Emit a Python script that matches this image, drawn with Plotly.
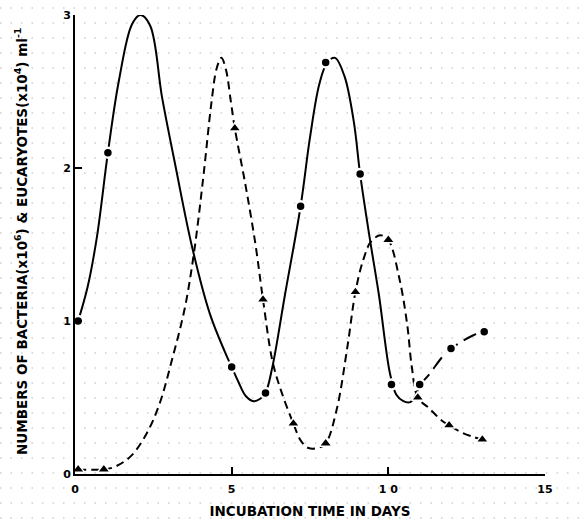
import plotly.graph_objects as go

# ---- measured data points (day, value) ----
bact_days = [0.1, 1.05, 5.0, 6.08, 7.2, 8.0, 9.1, 10.1, 11.0, 12.0, 13.06]
bact_vals = [1.0, 2.10, 0.70, 0.53, 1.75, 2.69, 1.96, 0.585, 0.585, 0.82, 0.93]

euc_days = [0.1, 0.92, 5.1, 6.0, 6.97, 8.0, 8.95, 10.0, 10.94, 11.94, 13.0]
euc_vals = [0.03, 0.03, 2.26, 1.14, 0.33, 0.2, 1.19, 1.53, 0.5, 0.318, 0.226]

# ---- hand-drawn fitted curves ----
bact_curve_days = [0.1, 0.4, 0.7, 1.05, 1.4, 1.82, 2.09, 2.4, 2.78, 3.2, 3.73,
                   4.3, 4.78, 5.0, 5.22, 5.45, 5.7, 5.9, 6.08, 6.3, 6.7, 7.2,
                   7.5, 7.8, 8.05, 8.3, 8.6, 8.9, 9.1, 9.4, 9.7, 10.05,
                   10.25, 10.48, 10.7, 10.88, 11.0]
bact_curve_vals = [1.0, 1.22, 1.55, 2.1, 2.57, 2.94, 3.0, 2.93, 2.46, 2.02, 1.49,
                   1.05, 0.8, 0.7, 0.6, 0.51, 0.476, 0.49, 0.53, 0.7, 1.17, 1.75,
                   2.2, 2.55, 2.69, 2.72, 2.6, 2.3, 1.96, 1.55, 1.17, 0.66,
                   0.52, 0.476, 0.47, 0.52, 0.585]
bact_tail_days = [11.0, 11.3, 11.7, 12.0, 12.3, 12.75, 13.06]
bact_tail_vals = [0.585, 0.65, 0.76, 0.82, 0.86, 0.91, 0.93]

euc_curve_days = [0.1, 0.92, 1.3, 1.8, 2.3, 2.7, 3.1, 3.5, 3.8, 4.1, 4.35, 4.52,
                  4.67, 4.82, 4.97, 5.1, 5.44, 5.76, 6.0, 6.3, 6.6, 6.97,
                  7.2, 7.45, 7.75, 8.0, 8.35, 8.7, 8.95, 9.2, 9.45, 9.75, 10.0, 10.35,
                  10.6, 10.75, 10.94, 11.3, 11.7, 11.94, 12.35, 12.75, 13.0]
euc_curve_vals = [0.03, 0.03, 0.05, 0.12, 0.27, 0.46, 0.75, 1.08, 1.45, 1.95, 2.42, 2.65,
                  2.72, 2.64, 2.44, 2.26, 1.89, 1.5, 1.14, 0.74, 0.53, 0.33,
                  0.22, 0.17, 0.17, 0.2, 0.42, 0.84, 1.19, 1.4, 1.52, 1.56, 1.53, 1.28,
                  0.98, 0.7, 0.5, 0.43, 0.35, 0.318, 0.27, 0.24, 0.226]

x_ticks = [0, 5, 10, 15]
x_tick_text = ["0", "5", "1 0", "15"]
y_ticks = [0, 1, 2, 3]

FONT = "DejaVu Sans"

fig = go.Figure()

fig.add_trace(go.Scatter(x=euc_curve_days, y=euc_curve_vals, mode="lines",
                         line=dict(color="black", width=2, dash="8px,5px", shape="spline", smoothing=1.0),
                         hoverinfo="skip", showlegend=False))
fig.add_trace(go.Scatter(x=bact_curve_days, y=bact_curve_vals, mode="lines",
                         line=dict(color="black", width=2, shape="spline", smoothing=1.0),
                         hoverinfo="skip", showlegend=False))
fig.add_trace(go.Scatter(x=bact_tail_days, y=bact_tail_vals, mode="lines",
                         line=dict(color="black", width=2, dash="14px,7px", shape="spline", smoothing=1.0),
                         hoverinfo="skip", showlegend=False))
fig.add_trace(go.Scatter(x=euc_days, y=euc_vals, mode="markers",
                         marker=dict(symbol="triangle-up", size=11, color="black",
                                     line=dict(color="white", width=1.5)),
                         name="Eucaryotes", showlegend=False))
fig.add_trace(go.Scatter(x=bact_days, y=bact_vals, mode="markers",
                         marker=dict(symbol="circle", size=10, color="black",
                                     line=dict(color="white", width=2.5)),
                         name="Bacteria", showlegend=False))

# faint dotted paper texture
L, R, T, B, W, H = 75, 40, 15, 50, 585, 524
pw, ph = W - L - R, H - T - B
shapes = []
ypix = 8
while ypix < H:
    yp = (H - B - ypix) / ph
    shapes.append(dict(type="line", xref="paper", yref="paper",
                       x0=-L / pw, x1=1 + R / pw, y0=yp, y1=yp, layer="below",
                       line=dict(color="#d0d0d0", width=1.3, dash="1.5px,9px")))
    ypix += 15

fig.update_layout(
    width=W, height=H,
    margin=dict(l=L, r=R, t=T, b=B),
    plot_bgcolor="rgba(0,0,0,0)", paper_bgcolor="white",
    shapes=shapes,
    xaxis=dict(range=[0, 15], tickvals=x_ticks, ticktext=x_tick_text,
               ticks="inside", ticklen=7, tickwidth=2, tickcolor="black",
               showline=True, linecolor="black", linewidth=2, automargin=False,
               showgrid=False, zeroline=False, ticklabelstandoff=4,
               tickfont=dict(family=FONT, size=11, color="black", weight="bold"),
               title=dict(text="INCUBATION TIME IN DAYS", standoff=11,
                          font=dict(family=FONT, size=13.5, color="black", weight="bold"))),
    yaxis=dict(range=[0, 3], tickvals=y_ticks,
               ticks="inside", ticklen=7, tickwidth=2, tickcolor="black",
               showline=True, linecolor="black", linewidth=2, automargin=False,
               showgrid=False, zeroline=False,
               tickfont=dict(family=FONT, size=11, color="black", weight="bold")),
    annotations=[dict(text="NUMBERS OF BACTERIA(x10<sup>6</sup>) &amp; EUCARYOTES(x10<sup>4</sup>) ml<sup>-1</sup>",
                      xref="paper", yref="paper", x=(21 - L) / pw, y=(H - B - 242) / ph,
                      textangle=-90, showarrow=False, xanchor="center", yanchor="middle",
                      font=dict(family=FONT, size=13.5, color="black", weight="bold"))],
)

fig.write_html("out.html")
